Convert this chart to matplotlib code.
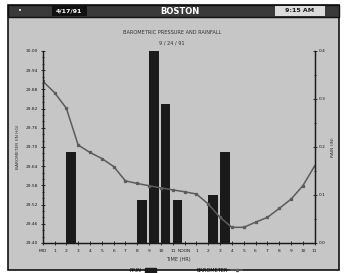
import matplotlib.pyplot as plt
from matplotlib.patches import Rectangle
from matplotlib.lines import Line2D

# hourly barometer readings (in Hg), midnight to 11 PM
hours = list(range(24))
pressure = [29.906, 29.870, 29.821, 29.706, 29.683, 29.664, 29.639, 29.594,
            29.586, 29.579, 29.572, 29.566, 29.560, 29.553, 29.522, 29.480,
            29.449, 29.449, 29.465, 29.480, 29.508, 29.537, 29.579, 29.641]

# rainfall (in) per hour
rain_hours = [2, 8, 9, 10, 11, 14, 15]
rain = [0.19, 0.09, 0.40, 0.29, 0.09, 0.10, 0.19]

hour_labels = ['MID', '1', '2', '3', '4', '5', '6', '7', '8', '9', '10', '11',
               'NOON', '1', '2', '3', '4', '5', '6', '7', '8', '9', '10', '11']
p_ticks = [29.40, 29.46, 29.52, 29.58, 29.64, 29.70, 29.76, 29.82, 29.88, 29.94, 30.00]
r_ticks = [0.0, 0.1, 0.2, 0.3, 0.4]

bg = '#c6c6c6'
ink = '#1a1a1a'
fs = 3.2

fig = plt.figure(figsize=(3.44, 2.73), dpi=100)
fig.patch.set_facecolor('white')

# screen panel and title bar
fig.patches.append(Rectangle((8 / 344, 3 / 273), 331 / 344, 265 / 273, transform=fig.transFigure,
                             facecolor=bg, edgecolor='#111111', linewidth=1.2, zorder=-3))
fig.patches.append(Rectangle((8 / 344, 1 - 17 / 273), 331 / 344, 12 / 273, transform=fig.transFigure,
                             facecolor='#3a3a3a', edgecolor='#111111', linewidth=1.0, zorder=-2))
fig.patches.append(Rectangle((52 / 344, 1 - 16 / 273), 35 / 344, 10 / 273, transform=fig.transFigure,
                             facecolor='#111111', edgecolor='none', zorder=-1))
fig.patches.append(Rectangle((275 / 344, 1 - 16 / 273), 50 / 344, 10 / 273, transform=fig.transFigure,
                             facecolor='#dcdcdc', edgecolor='none', zorder=-1))
fig.text(20 / 344, 1 - 11 / 273, '\u2022', color='white', fontsize=5, ha='center', va='center')
fig.text(69 / 344, 1 - 11 / 273, '4/17/91', color='white', fontsize=4.5, fontweight='bold',
         ha='center', va='center')
fig.text(180 / 344, 1 - 11 / 273, 'BOSTON', color='white', fontsize=6, fontweight='bold',
         ha='center', va='center')
fig.text(300 / 344, 1 - 11 / 273, '9:15 AM', color=ink, fontsize=4.5, fontweight='bold',
         ha='center', va='center')

fig.text(172 / 344, 1 - 33 / 273, 'BAROMETRIC PRESSURE AND RAINFALL', color='#333333',
         fontsize=3.6, ha='center', va='center')
fig.text(172 / 344, 1 - 43 / 273, '9 / 24 / 91', color='#333333', fontsize=3.6, ha='center', va='center')

ax = fig.add_axes([42.7 / 344, 1 - 243 / 273, 272 / 344, 192 / 273])
ax_r = ax.twinx()
ax_r.set_zorder(1)
ax.set_zorder(2)
ax.patch.set_visible(False)
ax_r.patch.set_visible(False)

ax_r.bar(rain_hours, rain, width=0.8, align='edge', color=ink, label='RAIN')
ax.plot(hours, pressure, color='#5c5c5c', linewidth=1.1, marker='s', markersize=1.4,
        label='BAROMETER')

ax.set_xlim(0, 23)
ax.set_ylim(29.40, 30.00)
ax_r.set_ylim(0, 0.4)

ax.set_xticks(hours)
ax.set_xticklabels(hour_labels)
ax.set_yticks(p_ticks)
ax.set_yticklabels(['%.2f' % v for v in p_ticks])
ax.set_yticks([v / 100 for v in range(2940, 3001, 2)], minor=True)
ax_r.set_yticks(r_ticks)
ax_r.set_yticklabels(['%.1f' % v for v in r_ticks])
ax_r.set_yticks([v / 100 for v in range(0, 41, 5)], minor=True)

for a in (ax, ax_r):
    a.spines['top'].set_visible(False)
    for s in a.spines.values():
        s.set_color(ink)
        s.set_linewidth(0.9)
    a.tick_params(which='major', direction='inout', length=3, width=0.6, colors=ink,
                  labelsize=fs, pad=1.5)
    a.tick_params(which='minor', direction='inout', length=1.5, width=0.5, colors=ink)
ax.tick_params(axis='x', pad=3)

ax.set_ylabel('BAROMETER (IN HG)', fontsize=3.2, color='#333333', labelpad=4)
ax_r.set_ylabel('RAIN (IN)', fontsize=3.2, color='#333333', labelpad=4)
ax.set_xlabel('TIME (HR)', fontsize=3.6, color='#333333', labelpad=3)

handles = [Rectangle((0, 0), 1, 1, color=ink),
           Line2D([0], [0], color='#5c5c5c', linewidth=1.1, marker='s', markersize=1.4)]
fig.legend(handles, ['RAIN', 'BAROMETER'], loc='center', bbox_to_anchor=(0.54, 0.01),
           ncol=2, frameon=False, markerfirst=False, fontsize=3.6, handlelength=2.2,
           handleheight=1.2, columnspacing=8)

fig.savefig('out.png', dpi=100, facecolor=fig.get_facecolor())
